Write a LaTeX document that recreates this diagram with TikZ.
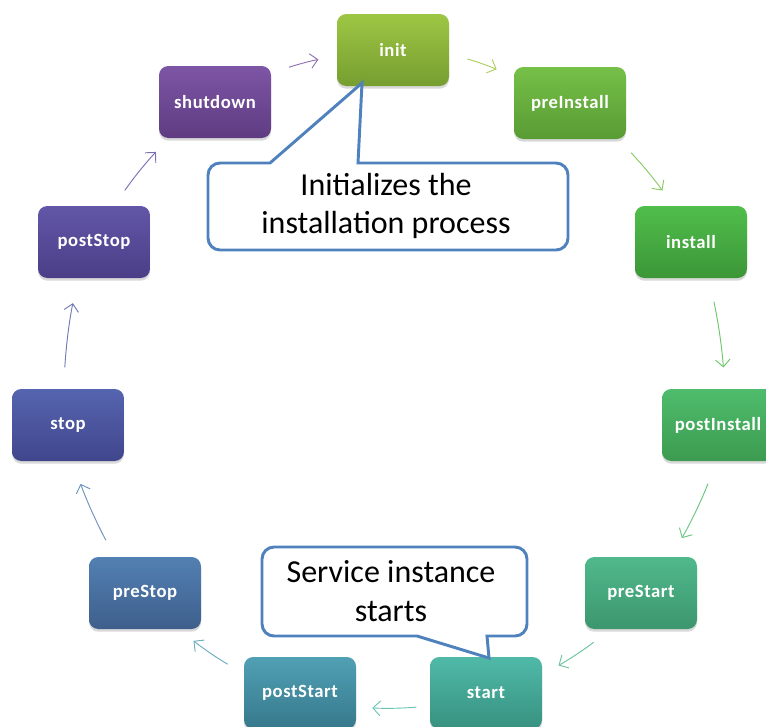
\documentclass[tikz,border=0pt]{standalone}
\usepackage{fontspec}
\setmainfont{Carlito}
\usetikzlibrary{arrows.meta,shadows}

\definecolor{initTop}{RGB}{158,198,68}
\definecolor{initBot}{RGB}{118,158,48}
\definecolor{preInstallTop}{RGB}{118,192,72}
\definecolor{preInstallBot}{RGB}{88,155,52}
\definecolor{installTop}{RGB}{80,190,75}
\definecolor{installBot}{RGB}{60,150,55}
\definecolor{postInstallTop}{RGB}{78,188,108}
\definecolor{postInstallBot}{RGB}{60,155,80}
\definecolor{preStartTop}{RGB}{80,185,140}
\definecolor{preStartBot}{RGB}{60,150,110}
\definecolor{startTop}{RGB}{80,185,168}
\definecolor{startBot}{RGB}{55,145,128}
\definecolor{postStartTop}{RGB}{80,160,180}
\definecolor{postStartBot}{RGB}{55,120,140}
\definecolor{preStopTop}{RGB}{82,128,178}
\definecolor{preStopBot}{RGB}{62,95,140}
\definecolor{stopTop}{RGB}{85,100,175}
\definecolor{stopBot}{RGB}{65,70,140}
\definecolor{postStopTop}{RGB}{98,86,168}
\definecolor{postStopBot}{RGB}{75,62,135}
\definecolor{shutdownTop}{RGB}{125,85,165}
\definecolor{shutdownBot}{RGB}{95,60,130}
\definecolor{calloutBlue}{RGB}{79,129,189}

\tikzset{
  stage/.style={rectangle, rounded corners=7pt, minimum width=84pt, minimum height=54pt,
    text=white, font=\bfseries\fontsize{14}{16}\selectfont\addfontfeature{LetterSpace=3},
    drop shadow={shadow xshift=0pt, shadow yshift=-2pt, opacity=0.3}},
  flow/.style={-{Straight Barb[length=5.5pt,width=11pt]}, line width=0.7pt,
    shorten <=14pt, shorten >=14pt},
  callout/.style={draw=calloutBlue, line width=2.2pt, fill=white},
  notetext/.style={font=\fontsize{24}{29}\selectfont, align=center}
}

\begin{document}
\begin{tikzpicture}[x=0.75pt, y=-0.75pt]

 \useasboundingbox (0,0) rectangle (766,726);

 % stages of the cycle
 \node[stage, top color=initTop, bottom color=initBot] (init) at (393,50) {init};
 \node[stage, top color=preInstallTop, bottom color=preInstallBot] (preInstall) at (570,103) {preInstall};
 \node[stage, top color=installTop, bottom color=installBot] (install) at (691,242) {install};
 \node[stage, top color=postInstallTop, bottom color=postInstallBot] (postInstall) at (718,425) {postInstall};
 \node[stage, top color=preStartTop, bottom color=preStartBot] (preStart) at (641,593) {preStart};
 \node[stage, top color=startTop, bottom color=startBot] (start) at (486,693) {start};
 \node[stage, top color=postStartTop, bottom color=postStartBot] (postStart) at (300,693) {postStart};
 \node[stage, top color=preStopTop, bottom color=preStopBot] (preStop) at (145,593) {preStop};
 \node[stage, top color=stopTop, bottom color=stopBot] (stop) at (68,425) {stop};
 \node[stage, top color=postStopTop, bottom color=postStopBot] (postStop) at (94,242) {postStop};
 \node[stage, top color=shutdownTop, bottom color=shutdownBot] (shutdown) at (215,102) {shutdown};

 \draw[flow, shutdownTop!85!white] (shutdown.27) to[bend left=4] (init.186);
 \draw[flow, initTop!85!white] (init.-4) to[bend left=4] (preInstall.155);
 \draw[flow, preInstallTop!85!white] (preInstall.-37) to[bend left=4] (install.116);
 \draw[flow, installTop!85!white, shorten <=18pt, shorten >=16pt] (install.-64) to[bend left=4] (postInstall.79);
 \draw[flow, postInstallTop!85!white, shorten <=18pt, shorten >=16pt] (postInstall.-92) to[bend left=4] (preStart.50);
 \draw[flow, preStartTop!85!white, shorten <=16pt] (preStart.230) to[bend left=4] (start.18);
 \draw[flow, startTop!85!white, shorten <=10pt, shorten >=12pt] (start.193) to[bend left=4] (postStart.-14);
 \draw[flow, postStartTop!85!white] (postStart.161) to[bend left=4] (preStop.-47);
 \draw[flow, preStopTop!85!white, shorten >=18pt] (preStop.130) to[bend left=4] (stop.-83);
 \draw[flow, stopTop!85!white, shorten <=16pt, shorten >=19pt] (stop.97) to[bend left=4] (postStop.246);
 \draw[flow, postStopTop!85!white] (postStop.61) to[bend left=4] (shutdown.218);

 % callouts
 \draw[callout] (362,83) -- (358,163) -- (530,163) [rounded corners=9pt] -- (568,163) -- (568,250)
   -- (208,250) -- (208,163) -- (240,163) [sharp corners] -- (270,163) -- cycle;
 \node[notetext] (initnote) at (386,206) {Initializes the\\installation process};

 \draw[callout] (489,658) -- (487,636) -- (500,636) [rounded corners=9pt] -- (527,636) -- (527,547)
   -- (262,547) -- (262,636) -- (300,636) [sharp corners] -- (417,636) -- cycle;
 \node[notetext] (startnote) at (391,591) {Service instance\\starts};

\end{tikzpicture}
\end{document}
